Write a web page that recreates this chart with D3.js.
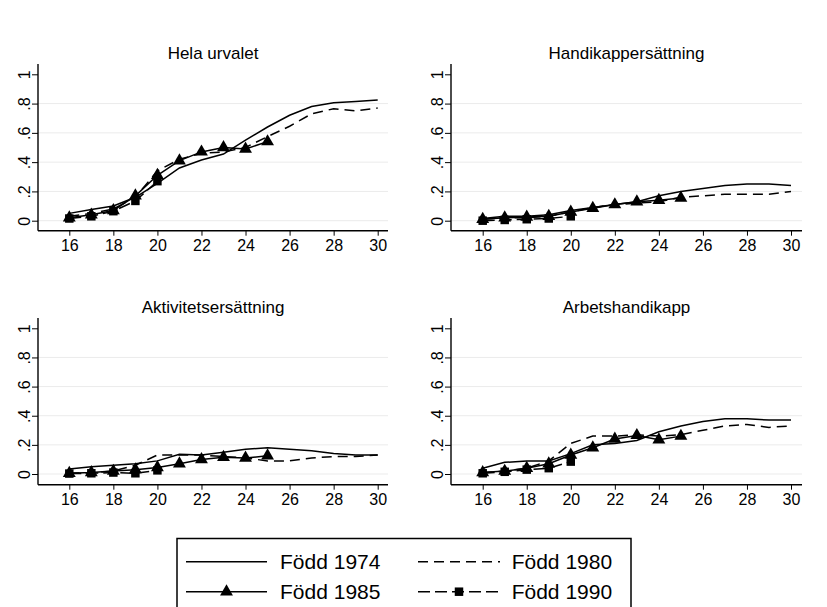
<!DOCTYPE html>
<html><head><meta charset="utf-8">
<script src="https://cdn.jsdelivr.net/npm/d3@7"></script>
<style>
body{margin:0;background:#fff;}
svg{display:block;font-family:"Liberation Sans",Arial,sans-serif;}
</style></head><body>
<svg id="c" width="827" height="607"></svg>
<script>
const ages = [16,17,18,19,20,21,22,23,24,25,26,27,28,29,30];
const xTicks = [16,18,20,22,24,26,28,30];
const yTicks = [0,0.2,0.4,0.6,0.8,1];
const yTickLabels = ["0",".2",".4",".6",".8","1"];
const panelTitles = ["Hela urvalet","Handikappersättning","Aktivitetsersättning","Arbetshandikapp"];
const seriesNames = ["Född 1974","Född 1980","Född 1985","Född 1990"];

// Hela urvalet
const hela1974 = [0.05,0.077,0.10,0.16,0.255,0.36,0.415,0.455,0.55,0.64,0.72,0.78,0.805,0.815,0.825];
const hela1980 = [0.03,0.05,0.08,0.16,0.34,0.42,0.46,0.47,0.50,0.575,0.645,0.73,0.765,0.75,0.77];
const hela1985 = [0.02,0.04,0.07,0.17,0.31,0.41,0.47,0.50,0.49,0.54];
const hela1990 = [0.015,0.03,0.065,0.135,0.27];
// Handikappersättning
const hand1974 = [0.015,0.03,0.03,0.04,0.07,0.09,0.11,0.13,0.17,0.20,0.22,0.24,0.25,0.25,0.24];
const hand1980 = [0.01,0.02,0.02,0.03,0.06,0.09,0.11,0.12,0.13,0.16,0.17,0.18,0.18,0.18,0.20];
const hand1985 = [0.01,0.02,0.025,0.03,0.06,0.085,0.11,0.13,0.14,0.155];
const hand1990 = [0.0,0.005,0.01,0.015,0.03];
// Aktivitetsersättning
const akt1974 = [0.035,0.05,0.06,0.07,0.09,0.135,0.13,0.15,0.17,0.18,0.17,0.16,0.14,0.13,0.13];
const akt1980 = [0.005,0.01,0.02,0.06,0.13,0.13,0.13,0.12,0.11,0.09,0.09,0.11,0.12,0.12,0.13];
const akt1985 = [0.005,0.01,0.02,0.03,0.045,0.07,0.10,0.115,0.11,0.125];
const akt1990 = [0.003,0.005,0.01,0.005,0.025];
// Arbetshandikapp
const arb1974 = [0.04,0.08,0.09,0.09,0.14,0.20,0.21,0.23,0.29,0.33,0.36,0.38,0.38,0.37,0.37];
const arb1980 = [0.01,0.02,0.04,0.09,0.21,0.26,0.26,0.27,0.26,0.27,0.30,0.33,0.34,0.32,0.33];
const arb1985 = [0.01,0.02,0.04,0.07,0.13,0.18,0.24,0.265,0.235,0.26];
const arb1990 = [0.005,0.015,0.03,0.04,0.085];

const panelData = [
  [hela1974,hela1980,hela1985,hela1990],
  [hand1974,hand1980,hand1985,hand1990],
  [akt1974,akt1980,akt1985,akt1990],
  [arb1974,arb1980,arb1985,arb1990]
];

const styles = [
  {dash:null, marker:null},
  {dash:"10,6", marker:null},
  {dash:null, marker:"tri"},
  {dash:"12,5", marker:"sq"}
];

const layout = [
  {axL:38, axR:388, x0:69.3, x1:377.7, yTop:64, yAx:230.7, y0:220.7, y1:74.3, ty:52.7},
  {axL:451, axR:802, x0:482.7, x1:791, yTop:64, yAx:230.7, y0:220.7, y1:74.3, ty:52.7},
  {axL:38, axR:388, x0:69.3, x1:377.7, yTop:318, yAx:484.7, y0:474, y1:328.3, ty:307.3},
  {axL:451, axR:802, x0:482.7, x1:791, yTop:318, yAx:484.7, y0:474, y1:328.3, ty:307.3}
];

const svg = d3.select("#c");
const triPath = d3.symbol().type(d3.symbolTriangle).size(72)();
const sqPath = d3.symbol().type(d3.symbolSquare).size(72)();

function drawMarker(g, type, x, y){
  g.append("path").attr("d", type==="tri"?triPath:sqPath)
   .attr("transform",`translate(${x},${y})`).attr("fill","#000");
}

layout.forEach((L,pi)=>{
  const x = d3.scaleLinear().domain([16,30]).range([L.x0,L.x1]);
  const y = d3.scaleLinear().domain([0,1]).range([L.y0,L.y1]);
  const g = svg.append("g");

  // gridlines
  g.selectAll("line.grid").data(yTicks.filter(v=>v<1)).enter().append("line")
    .attr("x1",L.axL).attr("x2",L.axR).attr("y1",d=>y(d)).attr("y2",d=>y(d))
    .attr("stroke","#ebebeb").attr("stroke-width",1);

  // title
  g.append("text").attr("x",(L.axL+L.axR)/2).attr("y",L.ty).attr("dy","0.36em")
    .attr("text-anchor","middle").attr("font-size",17).attr("fill","#000")
    .text(panelTitles[pi]);

  // x axis
  const xa = g.append("g").attr("transform",`translate(0,${L.yAx})`)
    .call(d3.axisBottom(x).tickValues(xTicks).tickSize(5).tickPadding(4).tickFormat(d3.format("d")));
  xa.select(".domain").remove();
  xa.selectAll("text").attr("font-size",16).attr("fill","#000").attr("font-family",null);
  xa.selectAll("line").attr("stroke","#000");
  g.append("line").attr("x1",L.axL).attr("x2",L.axR).attr("y1",L.yAx).attr("y2",L.yAx)
    .attr("stroke","#000").attr("stroke-width",1.4);

  // y axis
  const ya = g.append("g").attr("transform",`translate(${L.axL},0)`)
    .call(d3.axisLeft(y).tickValues(yTicks).tickSize(6).tickFormat((d,i)=>yTickLabels[i]));
  ya.select(".domain").remove();
  ya.selectAll("line").attr("stroke","#000");
  ya.selectAll("text").attr("font-size",16).attr("fill","#000").attr("font-family",null)
    .attr("transform","rotate(-90)").attr("x",0).attr("y",-8).attr("dy",0)
    .attr("text-anchor","middle");
  g.append("line").attr("x1",L.axL).attr("x2",L.axL).attr("y1",L.yTop).attr("y2",L.yAx)
    .attr("stroke","#000").attr("stroke-width",1.4);

  // series
  const line = d3.line().x((d,i)=>x(ages[i])).y(d=>y(d));
  panelData[pi].forEach((vals,si)=>{
    const st = styles[si];
    g.append("path").attr("d",line(vals)).attr("fill","none")
      .attr("stroke","#000").attr("stroke-width",1.5)
      .attr("stroke-dasharray",st.dash);
    if(st.marker){
      vals.forEach((v,i)=>drawMarker(g, st.marker, x(ages[i]), y(v)));
    }
  });
});

// legend
const lg = svg.append("g");
lg.append("rect").attr("x",177).attr("y",538.5).attr("width",454).attr("height",90)
  .attr("fill","#fff").attr("stroke","#000").attr("stroke-width",1.5);
const legPos = [
  {lx1:186, lx2:267, tx:280, ty:561.7},
  {lx1:418, lx2:500, tx:511.7, ty:561.7},
  {lx1:186, lx2:267, tx:280, ty:591.7},
  {lx1:418, lx2:500, tx:511.7, ty:591.7}
];
seriesNames.forEach((name,si)=>{
  const P = legPos[si], st = styles[si];
  lg.append("line").attr("x1",P.lx1).attr("x2",P.lx2).attr("y1",P.ty).attr("y2",P.ty)
    .attr("stroke","#000").attr("stroke-width",1.5).attr("stroke-dasharray",st.dash);
  if(st.marker) drawMarker(lg, st.marker, (P.lx1+P.lx2)/2, P.ty);
  lg.append("text").attr("x",P.tx).attr("y",P.ty).attr("dy","0.36em")
    .attr("font-size",21).attr("fill","#000").text(name);
});
</script></body></html>
